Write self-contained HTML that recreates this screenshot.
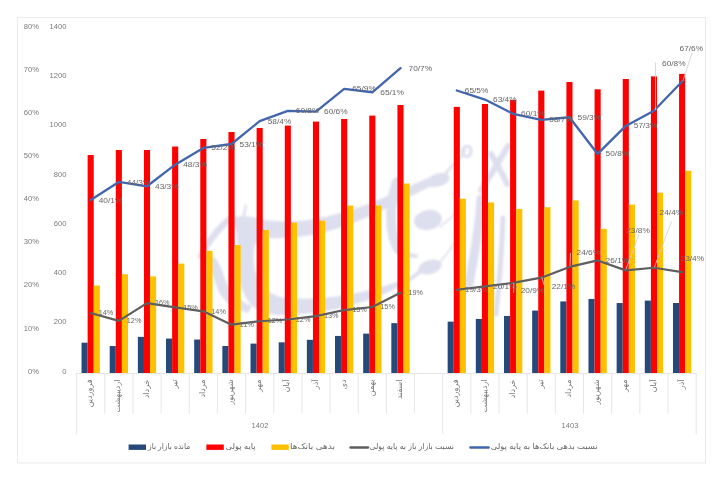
<!DOCTYPE html><html><head><meta charset="utf-8"><title>chart</title><style>html,body{margin:0;padding:0;background:#fff}svg{display:block}text{font-family:"Liberation Sans","DejaVu Sans",sans-serif}</style></head><body>
<svg width="723" height="480" viewBox="0 0 723 480">
<rect width="723" height="480" fill="#fff"/>
<rect x="17.5" y="17.5" width="688" height="445.5" fill="#fff" stroke="#ebebeb" stroke-width="1"/>
<defs><filter id="bl" x="-5%" y="-5%" width="110%" height="110%"><feGaussianBlur stdDeviation="0.9"/></filter></defs>
<g filter="url(#bl)">
<g id="wm" fill="#dddfee" stroke="none">
<path d="M230 217 C245 215 255 217 265 220 C280 222 300 222 315 219 C340 214 365 206 383 198 C400 190 415 184 428 178 L431 186 C415 194 398 203 383 210 C365 219 345 227 325 232 C305 237 285 239 266 238 C256 238 253 246 254 262 C256 282 266 296 288 298 C320 301 365 294 402 280 L404 284 C370 304 320 316 276 315 C254 314 241 300 238 270 C237 252 238 238 236 230 C234 224 231 221 230 217Z"/>
<path d="M245 204 L247 205 L245 218 L242 218Z"/>
<path d="M228 216 C214 228 202 244 197 258 C205 258 212 270 216 285 C220 298 230 308 248 313 L252 306 C238 300 228 290 224 276 C220 262 214 254 206 253 C212 242 222 230 232 221Z"/>
</g>
<g fill="none" stroke="#dddfee" stroke-linecap="round" stroke-linejoin="round">
<ellipse cx="438" cy="180" rx="12" ry="6.5" transform="rotate(-15 438 180)" fill="#dddfee" stroke="none"/>
<path d="M446 174 C452 166 460 157 466 150" stroke-width="1.6"/>
<path d="M462 152 C464 144 472 145 471 152 C470 158 464 158 462 152Z" stroke-width="3"/>
<path d="M462 156 C456 162 450 168 446 172" stroke-width="2"/>
<path d="M508 146 C500 160 490 176 481 190" stroke-width="6"/>
<path d="M491 154 C497 164 503 174 507 184" stroke-width="6"/>
<path d="M397 182 C389 205 389 232 398 249" stroke-width="10"/>
<ellipse cx="428" cy="220" rx="14" ry="10" transform="rotate(-10 428 220)" fill="#dddfee" stroke="none"/>
<path d="M440 227 C446 222 452 217 456 213" stroke-width="1.6"/>
<path d="M399 249 C404 254 410 256 416 256" stroke-width="4"/>
<ellipse cx="430" cy="267" rx="12" ry="7" transform="rotate(-15 430 267)" fill="#dddfee" stroke="none"/>
<path d="M440 262 C446 255 452 247 457 240" stroke-width="1.6"/>
<path d="M421 271 C415 276 409 280 403 283" stroke-width="4"/>
<path d="M481 199 C479 230 474 258 469 284" stroke-width="9"/>
<path d="M503 218 C502 250 499 285 496 314" stroke-width="5"/>
</g>
</g>
<rect x="81.53" y="342.70" width="6.1" height="30.30" fill="#254a7a"/>
<rect x="87.63" y="155.00" width="6.1" height="218.00" fill="#ff0000"/>
<rect x="93.73" y="285.58" width="6.1" height="87.42" fill="#ffc000"/>
<rect x="109.70" y="346.02" width="6.1" height="26.98" fill="#254a7a"/>
<rect x="115.80" y="150.00" width="6.1" height="223.00" fill="#ff0000"/>
<rect x="121.90" y="274.21" width="6.1" height="98.79" fill="#ffc000"/>
<rect x="137.86" y="336.87" width="6.1" height="36.13" fill="#254a7a"/>
<rect x="143.96" y="150.00" width="6.1" height="223.00" fill="#ff0000"/>
<rect x="150.06" y="276.44" width="6.1" height="96.56" fill="#ffc000"/>
<rect x="166.02" y="338.57" width="6.1" height="34.43" fill="#254a7a"/>
<rect x="172.12" y="146.50" width="6.1" height="226.50" fill="#ff0000"/>
<rect x="178.22" y="263.60" width="6.1" height="109.40" fill="#ffc000"/>
<rect x="194.19" y="339.54" width="6.1" height="33.46" fill="#254a7a"/>
<rect x="200.29" y="139.00" width="6.1" height="234.00" fill="#ff0000"/>
<rect x="206.39" y="250.85" width="6.1" height="122.15" fill="#ffc000"/>
<rect x="222.35" y="346.01" width="6.1" height="26.99" fill="#254a7a"/>
<rect x="228.45" y="132.00" width="6.1" height="241.00" fill="#ff0000"/>
<rect x="234.55" y="245.03" width="6.1" height="127.97" fill="#ffc000"/>
<rect x="250.51" y="343.60" width="6.1" height="29.40" fill="#254a7a"/>
<rect x="256.61" y="128.00" width="6.1" height="245.00" fill="#ff0000"/>
<rect x="262.71" y="229.92" width="6.1" height="143.08" fill="#ffc000"/>
<rect x="278.68" y="342.32" width="6.1" height="30.68" fill="#254a7a"/>
<rect x="284.78" y="125.60" width="6.1" height="247.40" fill="#ff0000"/>
<rect x="290.88" y="222.58" width="6.1" height="150.42" fill="#ffc000"/>
<rect x="306.84" y="339.82" width="6.1" height="33.18" fill="#254a7a"/>
<rect x="312.94" y="121.60" width="6.1" height="251.40" fill="#ff0000"/>
<rect x="319.04" y="220.65" width="6.1" height="152.35" fill="#ffc000"/>
<rect x="335.00" y="335.92" width="6.1" height="37.08" fill="#254a7a"/>
<rect x="341.10" y="119.00" width="6.1" height="254.00" fill="#ff0000"/>
<rect x="347.20" y="205.61" width="6.1" height="167.39" fill="#ffc000"/>
<rect x="363.17" y="333.62" width="6.1" height="39.38" fill="#254a7a"/>
<rect x="369.27" y="115.60" width="6.1" height="257.40" fill="#ff0000"/>
<rect x="375.37" y="205.43" width="6.1" height="167.57" fill="#ffc000"/>
<rect x="391.33" y="323.15" width="6.1" height="49.85" fill="#254a7a"/>
<rect x="397.43" y="105.00" width="6.1" height="268.00" fill="#ff0000"/>
<rect x="403.53" y="183.52" width="6.1" height="189.48" fill="#ffc000"/>
<rect x="447.66" y="321.64" width="6.1" height="51.36" fill="#254a7a"/>
<rect x="453.76" y="106.90" width="6.1" height="266.10" fill="#ff0000"/>
<rect x="459.86" y="198.70" width="6.1" height="174.30" fill="#ffc000"/>
<rect x="475.82" y="318.93" width="6.1" height="54.07" fill="#254a7a"/>
<rect x="481.92" y="104.00" width="6.1" height="269.00" fill="#ff0000"/>
<rect x="488.02" y="202.45" width="6.1" height="170.55" fill="#ffc000"/>
<rect x="503.99" y="315.94" width="6.1" height="57.06" fill="#254a7a"/>
<rect x="510.09" y="100.00" width="6.1" height="273.00" fill="#ff0000"/>
<rect x="516.19" y="208.93" width="6.1" height="164.07" fill="#ffc000"/>
<rect x="532.15" y="310.59" width="6.1" height="62.41" fill="#254a7a"/>
<rect x="538.25" y="90.60" width="6.1" height="282.40" fill="#ff0000"/>
<rect x="544.35" y="207.23" width="6.1" height="165.77" fill="#ffc000"/>
<rect x="560.31" y="301.41" width="6.1" height="71.59" fill="#254a7a"/>
<rect x="566.41" y="82.00" width="6.1" height="291.00" fill="#ff0000"/>
<rect x="572.51" y="200.44" width="6.1" height="172.56" fill="#ffc000"/>
<rect x="588.48" y="298.95" width="6.1" height="74.05" fill="#254a7a"/>
<rect x="594.58" y="89.30" width="6.1" height="283.70" fill="#ff0000"/>
<rect x="600.68" y="228.88" width="6.1" height="144.12" fill="#ffc000"/>
<rect x="616.64" y="303.03" width="6.1" height="69.97" fill="#254a7a"/>
<rect x="622.74" y="79.00" width="6.1" height="294.00" fill="#ff0000"/>
<rect x="628.84" y="204.54" width="6.1" height="168.46" fill="#ffc000"/>
<rect x="644.80" y="300.63" width="6.1" height="72.37" fill="#254a7a"/>
<rect x="650.90" y="76.40" width="6.1" height="296.60" fill="#ff0000"/>
<rect x="657.00" y="192.67" width="6.1" height="180.33" fill="#ffc000"/>
<rect x="672.97" y="303.01" width="6.1" height="69.99" fill="#254a7a"/>
<rect x="679.07" y="73.90" width="6.1" height="299.10" fill="#ff0000"/>
<rect x="685.17" y="170.81" width="6.1" height="202.19" fill="#ffc000"/>
<g stroke="#e6e6e6" stroke-width="1" fill="none">
<path d="M76.6 373.5H697"/>
<path d="M76.60 373.0V434"/>
<path d="M104.76 373.0V413.5"/>
<path d="M132.93 373.0V413.5"/>
<path d="M161.09 373.0V413.5"/>
<path d="M189.25 373.0V413.5"/>
<path d="M217.42 373.0V413.5"/>
<path d="M245.58 373.0V413.5"/>
<path d="M273.75 373.0V413.5"/>
<path d="M301.91 373.0V413.5"/>
<path d="M330.07 373.0V413.5"/>
<path d="M358.24 373.0V413.5"/>
<path d="M386.40 373.0V413.5"/>
<path d="M414.56 373.0V413.5"/>
<path d="M442.73 373.0V434"/>
<path d="M470.89 373.0V413.5"/>
<path d="M499.05 373.0V413.5"/>
<path d="M527.22 373.0V413.5"/>
<path d="M555.38 373.0V413.5"/>
<path d="M583.55 373.0V413.5"/>
<path d="M611.71 373.0V413.5"/>
<path d="M639.87 373.0V413.5"/>
<path d="M668.04 373.0V413.5"/>
<path d="M696.20 373.0V434"/>
</g>
<polyline points="90.68,313.06 118.85,320.82 147.01,303.14 175.17,307.45 203.34,311.33 231.50,324.70 259.66,321.25 287.83,319.52 315.99,316.07 344.15,310.04 372.32,307.02 400.48,292.79" fill="none" stroke="#5e5e5e" stroke-width="2.2" stroke-linejoin="round" stroke-linecap="round"/>
<polyline points="456.81,289.77 484.97,286.32 513.14,282.87 541.30,277.69 569.46,266.91 597.63,260.44 625.79,270.36 653.95,267.77 682.12,272.09" fill="none" stroke="#5e5e5e" stroke-width="2.2" stroke-linejoin="round" stroke-linecap="round"/>
<polyline points="90.68,200.07 118.85,181.96 147.01,186.27 175.17,164.71 203.34,147.89 231.50,144.01 259.66,121.15 287.83,110.80 315.99,111.66 344.15,88.81 372.32,92.26 400.48,68.11" fill="none" stroke="#4166ad" stroke-width="2.3" stroke-linejoin="round" stroke-linecap="round"/>
<polyline points="456.81,90.53 484.97,99.59 513.14,113.82 541.30,119.86 569.46,117.27 597.63,153.93 625.79,125.89 653.95,110.80 682.12,81.48" fill="none" stroke="#4166ad" stroke-width="2.3" stroke-linejoin="round" stroke-linecap="round"/>
<g font-size="7.6" fill="#7a7a7a" text-anchor="end">
<text x="39" y="373.70">0%</text>
<text x="39" y="330.57">10%</text>
<text x="39" y="287.45">20%</text>
<text x="39" y="244.32">30%</text>
<text x="39" y="201.20">40%</text>
<text x="39" y="158.07">50%</text>
<text x="39" y="114.95">60%</text>
<text x="39" y="71.83">70%</text>
<text x="39" y="28.70">80%</text>
<text x="66.5" y="373.70">0</text>
<text x="66.5" y="324.41">200</text>
<text x="66.5" y="275.13">400</text>
<text x="66.5" y="225.84">600</text>
<text x="66.5" y="176.56">800</text>
<text x="66.5" y="127.27">1000</text>
<text x="66.5" y="77.99">1200</text>
<text x="66.5" y="28.70">1400</text>
</g>
<g font-size="8" fill="#757575" text-anchor="end">
<text transform="translate(92.28,379.5) rotate(-90)">فروردین</text>
<text transform="translate(120.45,379.5) rotate(-90)">اردیبهشت</text>
<text transform="translate(148.61,379.5) rotate(-90)">خرداد</text>
<text transform="translate(176.77,379.5) rotate(-90)">تیر</text>
<text transform="translate(204.94,379.5) rotate(-90)">مرداد</text>
<text transform="translate(233.10,379.5) rotate(-90)">شهریور</text>
<text transform="translate(261.26,379.5) rotate(-90)">مهر</text>
<text transform="translate(289.43,379.5) rotate(-90)">آبان</text>
<text transform="translate(317.59,379.5) rotate(-90)">آذر</text>
<text transform="translate(345.75,379.5) rotate(-90)">دی</text>
<text transform="translate(373.92,379.5) rotate(-90)">بهمن</text>
<text transform="translate(402.08,379.5) rotate(-90)">اسفند</text>
<text transform="translate(458.41,379.5) rotate(-90)">فروردین</text>
<text transform="translate(486.57,379.5) rotate(-90)">اردیبهشت</text>
<text transform="translate(514.74,379.5) rotate(-90)">خرداد</text>
<text transform="translate(542.90,379.5) rotate(-90)">تیر</text>
<text transform="translate(571.06,379.5) rotate(-90)">مرداد</text>
<text transform="translate(599.23,379.5) rotate(-90)">شهریور</text>
<text transform="translate(627.39,379.5) rotate(-90)">مهر</text>
<text transform="translate(655.55,379.5) rotate(-90)">آبان</text>
<text transform="translate(683.72,379.5) rotate(-90)">آذر</text>
</g>
<g font-size="7.6" fill="#7a7a7a" text-anchor="middle"><text x="260" y="427.7">1402</text><text x="570" y="427.7">1403</text></g>
<g font-size="7.9" fill="#666">
<text x="98.7" y="202.6" textLength="23.6" lengthAdjust="spacingAndGlyphs">40/1%</text>
<text x="126.8" y="184.5" textLength="23.6" lengthAdjust="spacingAndGlyphs">44/3%</text>
<text x="155.0" y="188.8" textLength="23.6" lengthAdjust="spacingAndGlyphs">43/3%</text>
<text x="183.2" y="167.2" textLength="23.6" lengthAdjust="spacingAndGlyphs">48/3%</text>
<text x="211.3" y="150.4" textLength="23.6" lengthAdjust="spacingAndGlyphs">52/2%</text>
<text x="239.5" y="146.5" textLength="23.6" lengthAdjust="spacingAndGlyphs">53/1%</text>
<text x="267.7" y="123.7" textLength="23.6" lengthAdjust="spacingAndGlyphs">58/4%</text>
<text x="295.8" y="113.3" textLength="23.6" lengthAdjust="spacingAndGlyphs">60/8%</text>
<text x="324.0" y="114.2" textLength="23.6" lengthAdjust="spacingAndGlyphs">60/6%</text>
<text x="352.2" y="91.3" textLength="23.6" lengthAdjust="spacingAndGlyphs">65/9%</text>
<text x="380.3" y="94.8" textLength="23.6" lengthAdjust="spacingAndGlyphs">65/1%</text>
<text x="408.5" y="70.6" textLength="23.6" lengthAdjust="spacingAndGlyphs">70/7%</text>
<text x="464.8" y="93.0" textLength="23.6" lengthAdjust="spacingAndGlyphs">65/5%</text>
<text x="493.0" y="102.1" textLength="23.6" lengthAdjust="spacingAndGlyphs">63/4%</text>
<text x="521.1" y="116.3" textLength="23.6" lengthAdjust="spacingAndGlyphs">60/1%</text>
<text x="549.3" y="122.4" textLength="23.6" lengthAdjust="spacingAndGlyphs">58/7%</text>
<text x="577.5" y="119.8" textLength="23.6" lengthAdjust="spacingAndGlyphs">59/3%</text>
<text x="605.6" y="156.4" textLength="23.6" lengthAdjust="spacingAndGlyphs">50/8%</text>
<text x="633.8" y="128.4" textLength="23.6" lengthAdjust="spacingAndGlyphs">57/3%</text>
<text x="662.0" y="65.6" textLength="23.6" lengthAdjust="spacingAndGlyphs">60/8%</text>
<text x="679.5" y="51.4" textLength="23.6" lengthAdjust="spacingAndGlyphs">67/6%</text>
<text x="98.7" y="315.3" textLength="14.6" lengthAdjust="spacingAndGlyphs">14%</text>
<text x="126.8" y="323.0" textLength="14.6" lengthAdjust="spacingAndGlyphs">12%</text>
<text x="155.0" y="305.3" textLength="14.6" lengthAdjust="spacingAndGlyphs">16%</text>
<text x="183.2" y="309.6" textLength="14.6" lengthAdjust="spacingAndGlyphs">15%</text>
<text x="211.3" y="313.5" textLength="14.6" lengthAdjust="spacingAndGlyphs">14%</text>
<text x="239.5" y="326.9" textLength="14.6" lengthAdjust="spacingAndGlyphs">11%</text>
<text x="267.7" y="323.4" textLength="14.6" lengthAdjust="spacingAndGlyphs">12%</text>
<text x="295.8" y="321.7" textLength="14.6" lengthAdjust="spacingAndGlyphs">12%</text>
<text x="324.0" y="318.3" textLength="14.6" lengthAdjust="spacingAndGlyphs">13%</text>
<text x="352.2" y="312.2" textLength="14.6" lengthAdjust="spacingAndGlyphs">15%</text>
<text x="380.3" y="309.2" textLength="14.6" lengthAdjust="spacingAndGlyphs">15%</text>
<text x="408.5" y="295.0" textLength="14.6" lengthAdjust="spacingAndGlyphs">19%</text>
<text x="464.8" y="292.0" textLength="23.6" lengthAdjust="spacingAndGlyphs">19/3%</text>
<text x="493.0" y="288.5" textLength="23.6" lengthAdjust="spacingAndGlyphs">20/1%</text>
<text x="520.7" y="293.0" textLength="23.6" lengthAdjust="spacingAndGlyphs">20/9%</text>
<text x="551.7" y="289.4" textLength="23.6" lengthAdjust="spacingAndGlyphs">22/1%</text>
<text x="576.5" y="255.0" textLength="23.6" lengthAdjust="spacingAndGlyphs">24/6%</text>
<text x="605.6" y="262.6" textLength="23.6" lengthAdjust="spacingAndGlyphs">26/1%</text>
<text x="626.2" y="232.7" textLength="23.6" lengthAdjust="spacingAndGlyphs">23/8%</text>
<text x="659.6" y="214.6" textLength="23.6" lengthAdjust="spacingAndGlyphs">24/4%</text>
<text x="680.5" y="260.8" textLength="23.6" lengthAdjust="spacingAndGlyphs">23/4%</text>
</g>
<g stroke="#d0d0d0" stroke-width="0.8" fill="none">
<path d="M655.5 62.5V110"/><path d="M692 53L682.9 81"/>
<path d="M639.2 233.8L626 269"/><path d="M671.5 221.3L654.3 267.5"/>
<path d="M513.7 283V293"/><path d="M541.9 277.5L544 285"/><path d="M570.5 253L570 266"/>
</g>
<g font-size="8" fill="#666" text-anchor="end">
<rect x="128.6" y="444.5" width="17.4" height="5.4" fill="#254a7a"/><text x="190.3" y="449.3" textLength="42.3" lengthAdjust="spacingAndGlyphs">مانده بازار باز</text>
<rect x="206.4" y="444.5" width="17.4" height="5.4" fill="#ff0000"/><text x="255.6" y="449.3" textLength="30" lengthAdjust="spacingAndGlyphs">پایه پولی</text>
<rect x="271.4" y="444.5" width="17.4" height="5.4" fill="#ffc000"/><text x="335" y="449.3" textLength="45" lengthAdjust="spacingAndGlyphs">بدهی بانک‌ها</text>
<path d="M350.5 447.5H368" stroke="#5e5e5e" stroke-width="2.4" stroke-linecap="round"/><text x="454" y="449.3" textLength="84.5" lengthAdjust="spacingAndGlyphs">نسبت بازار باز به پایه پولی</text>
<path d="M470.5 447.5H488.5" stroke="#4166ad" stroke-width="2.6" stroke-linecap="round"/><text x="597.7" y="449.3" textLength="107" lengthAdjust="spacingAndGlyphs">نسبت بدهی بانک‌ها به پایه پولی</text>
</g>
</svg></body></html>
